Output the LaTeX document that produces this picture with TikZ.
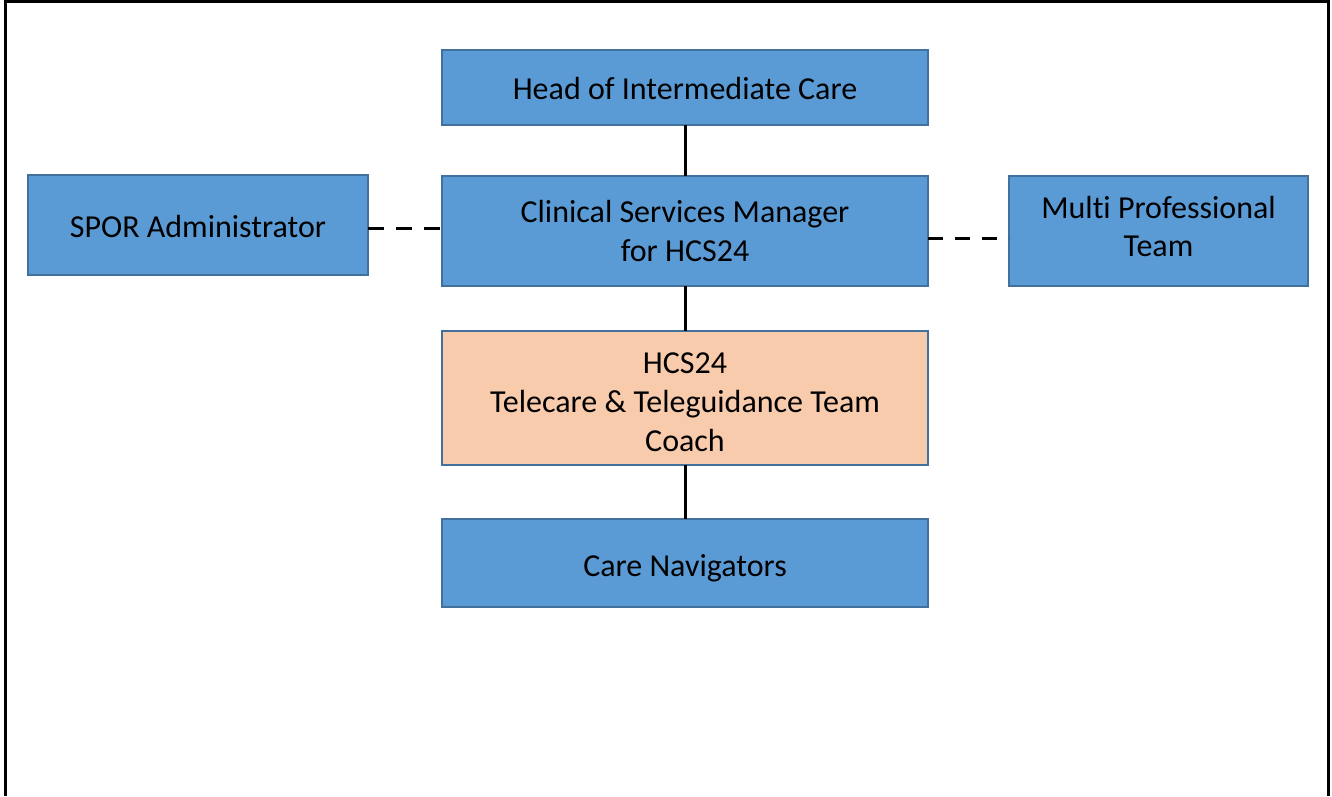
\documentclass[tikz,border=0pt]{standalone}
\usepackage{fontspec}
\setmainfont[Ligatures=NoCommon]{Carlito}
\definecolor{boxblue}{HTML}{5B9BD5}
\definecolor{boxedge}{HTML}{41719C}
\definecolor{boxpeach}{HTML}{F8CBAD}
\begin{document}
\begin{tikzpicture}[x=1pt,y=-1pt,
  orgbox/.style={draw=boxedge, line width=2pt, fill=boxblue, rectangle, inner sep=0pt, outer sep=0pt},
  lbl/.style={align=center, font=\fontsize{32}{39}\selectfont, text=black, inner sep=0pt},
  solidlink/.style={line width=3pt, black},
  dashlink/.style={line width=3pt, black, dash pattern=on 16pt off 12pt}]
\useasboundingbox (0,0) rectangle (1332,796);
\draw[line width=3pt] (5,796) -- (5,1) -- (1328,1) -- (1328,796);
\node[orgbox, minimum width=486pt, minimum height=75pt,
  label={[lbl, yshift=-1pt]center:Head of Intermediate Care}] (head) at (685,87.5) {};
\node[orgbox, minimum width=340pt, minimum height=100pt,
  label={[lbl, yshift=-1pt]center:SPOR Administrator}] (spor) at (198,225) {};
\node[orgbox, minimum width=486pt, minimum height=110pt,
  label={[lbl]center:{Clinical Services Manager\\for HCS24}}] (clin) at (685,231) {};
\node[orgbox, minimum width=299pt, minimum height=110pt,
  label={[lbl, yshift=4.5pt]center:{Multi Professional\\Team}}] (multi) at (1158.5,231) {};
\node[orgbox, fill=boxpeach, minimum width=486pt, minimum height=134pt,
  label={[lbl, yshift=-4pt]center:{HCS24\\Telecare \& Teleguidance Team\\Coach}}] (coach) at (685,398) {};
\node[orgbox, minimum width=486pt, minimum height=88pt,
  label={[lbl, yshift=-5pt]center:Care Navigators}] (nav) at (685,563) {};
\draw[solidlink] (head) -- (clin);
\draw[solidlink] (clin) -- (coach);
\draw[solidlink] (coach) -- (nav);
\draw[dashlink] ([yshift=-3pt]spor.east) -- ([yshift=-3pt]spor.east -| clin.west);
\draw[dashlink, dash pattern=on 15pt off 12pt] ([yshift=-7pt]clin.east) -- ([yshift=-7pt]clin.east -| multi.west);
\end{tikzpicture}
\end{document}
